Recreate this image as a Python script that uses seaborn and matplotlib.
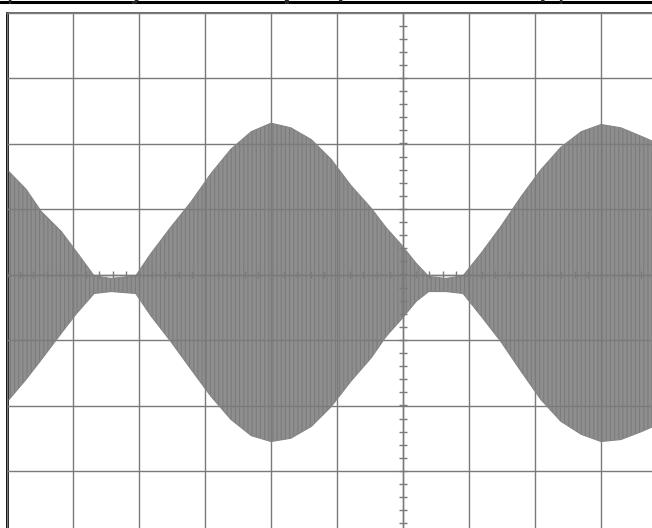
import numpy as np
import matplotlib
matplotlib.use("Agg")
import matplotlib.pyplot as plt
from matplotlib.lines import Line2D
import seaborn as sns

# envelope of the captured signal, in screen divisions (x: 0 = centre line)
time_div = [-5.97, -5.71, -5.48, -5.18, -4.95, -4.68, -4.42, -4.05, -3.82, -3.52,
            -3.21, -2.91, -2.61, -2.30, -2.00, -1.70, -1.39, -1.09, -0.79, -0.48,
            -0.26, -0.03, 0.20, 0.39, 0.65, 0.91, 1.18, 1.48, 1.79, 2.09,
            2.39, 2.70, 3.00, 3.30, 3.61, 3.79]
upper_div = [1.57, 1.30, 0.96, 0.66, 0.35, -0.02, -0.06, -0.02, 0.32, 0.72,
             1.11, 1.54, 1.91, 2.18, 2.31, 2.24, 2.06, 1.76, 1.36, 1.01,
             0.72, 0.46, 0.17, -0.03, -0.06, -0.02, 0.32, 0.73, 1.19, 1.60,
             1.94, 2.18, 2.29, 2.24, 2.11, 2.03]
lower_div = [-1.91, -1.60, -1.30, -0.90, -0.60, -0.29, -0.26, -0.29, -0.63, -1.02,
             -1.45, -1.86, -2.21, -2.46, -2.55, -2.50, -2.32, -2.02, -1.63, -1.27,
             -0.95, -0.69, -0.41, -0.26, -0.26, -0.29, -0.63, -1.02, -1.48, -1.91,
             -2.24, -2.44, -2.55, -2.52, -2.40, -2.32]

title_text = "| Summary of the Output (AM carrier test) |"

sns.set_style("white")
plt.rcParams['font.family'] = ['DejaVu Sans']
plt.rcParams['hatch.linewidth'] = 0.8

fig = plt.figure(figsize=(6.52, 5.28), dpi=100)
# screen is 12 x 8 divisions, only the left part of it is in the picture
ax = fig.add_axes([7 / 652, -8.5 / 528, 792 / 652, 524 / 528])

# dense carrier drawn as a hatched band between the envelopes
ax.fill_between(time_div, lower_div, upper_div, facecolor="#8e8e8e",
                edgecolor="#7c7c7c", hatch="||||", lw=0.0, zorder=2)
sns.lineplot(x=time_div, y=upper_div, ax=ax, color="#858585", lw=0.8, zorder=3)
sns.lineplot(x=time_div, y=lower_div, ax=ax, color="#858585", lw=0.8, zorder=3)

ax.set_xlim(-6, 6)
ax.set_ylim(-4, 4)
ax.set_xticks(np.arange(-6, 7))
ax.set_yticks(np.arange(-4, 5))
grid_col = "#7a7a7a"
ax.grid(True, color=grid_col, lw=1.0, zorder=4)
ax.set_axisbelow(False)
ax.tick_params(length=0, labelbottom=False, labelleft=False)

# centre cross with 0.2 div marks
ax.axhline(0, color=grid_col, lw=1.0, zorder=4)
ax.axvline(0, color=grid_col, lw=1.0, zorder=4)
marks = np.arange(-6, 6.01, 0.2)
ax.vlines(marks, -0.055, 0.055, color=grid_col, lw=1.0, zorder=4)
marks = np.arange(-4, 4.01, 0.2)
ax.hlines(marks, -0.055, 0.055, color=grid_col, lw=1.0, zorder=4)

for side in ["right", "bottom"]:
    ax.spines[side].set_visible(False)
ax.spines["left"].set_color("black")
ax.spines["left"].set_linewidth(2.0)
ax.spines["top"].set_color("#555555")
ax.spines["top"].set_linewidth(1.2)

# caption above the screen, only its lowest part is inside the picture
fig.add_artist(Line2D([0, 1], [1 - 2 / 528, 1 - 2 / 528], transform=fig.transFigure,
                      color="black", lw=2.2))
fig.text(6 / 652, 1 + 1.5 / 528, title_text, va="baseline", ha="left",
         fontsize=16.5, fontweight="bold")

fig.savefig("out.png", dpi=100)
